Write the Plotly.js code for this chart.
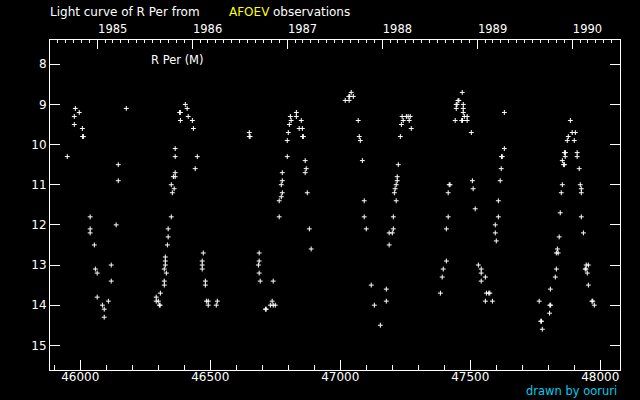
<!DOCTYPE html>
<html>
<head>
<meta charset="utf-8">
<script src="https://cdn.plot.ly/plotly-3.0.1.min.js"></script>
<style>html,body{margin:0;padding:0;background:#000;}#chart{width:640px;height:400px;}</style>
</head>
<body>
<div id="chart"></div>
<script>
// Julian Date - 2400000 of each observation
const jd = [
  45950,45977,45977,45981,45996,46008,46009,46012,46038,46038,46038,46054,46058,46065,46065,46085,46092,46092,46108,46119,46119,46138,46146,46146,46177,
  46292,46292,46300,46304,46307,46308,46323,46323,46323,46327,46327,46327,46331,46335,46338,46338,46350,46350,46354,46358,46361,46365,46365,46365,46365,46382,46385,46385,46404,46411,46415,46431,46435,46442,46450,46469,46469,46469,46473,46481,46481,46485,46492,46492,46523,46527,
  46650,46650,46653,46685,46688,46688,46688,46692,46712,46715,46731,46738,46742,46742,46750,46765,46765,46773,46773,46777,46777,46777,46796,46796,46800,46804,46808,46811,46831,46831,46842,46850,46854,46855,46858,46865,46865,46869,46873,46881,46888,
  47019,47034,47033,47036,47042,47050,47069,47073,47077,47085,47092,47092,47100,47119,47131,47154,47177,47177,47188,47188,47200,47204,47204,47208,47211,47215,47215,47219,47219,47223,47231,47235,47238,47242,47254,47261,47265,47269,47273,
  47385,47392,47396,47408,47408,47415,47415,47419,47422,47442,47446,47446,47449,47453,47456,47469,47467,47470,47473,47473,47473,47477,47488,47488,47504,47508,47511,47519,47531,47542,47542,47542,47558,47558,47562,47571,47575,47585,47596,47596,47600,47608,47608,47615,47619,47620,47623,47631,47631,
  47765,47771,47774,47777,47805,47806,47809,47808,47827,47831,47831,47835,47838,47842,47846,47850,47854,47854,47859,47862,47862,47866,47865,47873,47877,47885,47892,47900,47904,47911,47911,47919,47923,47927,47927,47927,47935,47942,47945,47946,47950,47954,47954,47968,47971,47977
];
// visual magnitudes
const mag = [
  10.3,9.3,9.5,9.1,9.2,9.6,9.8,9.8,11.8,12.1,12.2,12.5,13.1,13.2,13.8,14.0,14.1,14.3,13.9,13.0,13.4,12.0,10.5,10.9,9.1,
  13.8,13.9,13.9,14.0,14.0,13.7,13.1,13.4,13.5,12.8,12.9,13.0,13.2,12.5,12.1,12.3,11.8,11.0,11.2,10.8,11.1,10.1,10.3,10.7,10.8,9.2,9.2,9.4,9.0,9.1,9.3,9.4,9.6,10.6,10.3,12.9,13.0,13.1,12.7,13.4,13.5,13.9,13.9,14.0,14.0,13.9,
  9.7,9.8,9.8,13.0,12.7,12.9,13.2,13.4,14.1,14.1,14.0,13.9,13.4,14.0,14.0,11.4,11.8,11.0,11.3,10.7,10.9,11.2,9.9,10.3,9.7,9.5,9.3,9.4,9.2,9.3,9.6,9.4,9.6,9.8,9.8,10.4,10.7,10.6,11.2,12.1,12.6,
  8.9,8.9,8.8,8.8,8.7,8.8,9.4,9.8,9.9,10.4,11.4,11.8,12.1,13.5,14.0,14.5,13.6,13.9,12.2,12.5,12.2,11.8,12.1,11.2,11.1,11.0,11.4,10.8,10.9,10.5,9.8,9.5,9.3,9.4,9.3,9.3,9.4,9.3,9.6,
  13.7,13.3,13.1,12.1,12.9,11.2,11.8,11.0,11.0,9.4,9.1,9.0,9.0,8.9,8.9,8.7,9.4,9.4,9.0,9.1,9.2,9.3,9.3,9.4,9.7,10.9,11.1,11.6,13.0,13.1,13.2,13.4,13.3,13.9,13.7,13.7,13.7,13.9,12.0,12.2,12.4,11.4,11.8,10.9,10.6,10.3,10.3,9.2,10.1,
  13.9,14.4,14.4,14.6,14.2,14.0,14.0,13.6,13.3,13.1,12.7,12.6,12.7,12.3,11.7,11.2,11.0,10.4,10.5,10.5,10.2,10.2,10.3,9.9,9.8,9.4,9.7,9.9,9.7,10.2,10.3,10.6,11.0,11.1,11.2,11.8,12.2,13.1,13.1,13.0,13.2,13.0,13.5,13.9,13.9,14.0
];
const jdTicks = [46000, 46500, 47000, 47500, 48000];
const magTicks = [8, 9, 10, 11, 12, 13, 14, 15];
const years = [1985, 1986, 1987, 1988, 1989, 1990];
const yearLabels = ['1985', '1986', '1987', '1988', '1989', '1990'];

function calJD(y, m) { return Date.UTC(y, m, 1) / 86400000 + 2440587.5 - 2400000; }
const yearJD = years.map(y => calJD(y, 0));
const monthJD = [];
for (let y = 1984; y <= 1990; y++) for (let m = 0; m < 12; m++) monthJD.push(calJD(y, m));

const xr = [45883.5, 48075.8];
const yr = [15.615, 7.395];
const fnt = {family: 'DejaVu Sans', size: 11, color: '#ffffff'};

const traces = [
  {
    x: jd, y: mag, type: 'scatter', mode: 'markers', xaxis: 'x', yaxis: 'y',
    marker: {symbol: 'cross-thin', size: 3.5, color: '#ffffff', line: {color: '#ffffff', width: 1}},
    hoverinfo: 'skip'
  },
  // invisible carriers so the two top calendar axes are drawn
  {x: yearJD, y: yearJD.map(() => null), type: 'scatter', mode: 'markers', xaxis: 'x2', yaxis: 'y',
   marker: {opacity: 0}, hoverinfo: 'skip'},
  {x: monthJD, y: monthJD.map(() => null), type: 'scatter', mode: 'markers', xaxis: 'x3', yaxis: 'y',
   marker: {opacity: 0}, hoverinfo: 'skip'}
];

const layout = {
  width: 640, height: 400,
  paper_bgcolor: '#000000', plot_bgcolor: '#000000',
  margin: {l: 50, r: 20, t: 40, b: 30, pad: 0},
  showlegend: false,
  font: fnt,
  xaxis: {
    range: xr, autorange: false, showgrid: false, zeroline: false,
    showline: true, linecolor: '#ffffff', linewidth: 1, mirror: true,
    tickmode: 'array', tickvals: jdTicks, ticktext: jdTicks.map(String),
    ticks: 'inside', ticklen: 10, tickwidth: 1, tickcolor: '#ffffff',
    ticklabelstandoff: -4,
    minor: {dtick: 100, tick0: 0, ticks: 'inside', ticklen: 5, tickwidth: 1, tickcolor: '#ffffff', showgrid: false},
    tickfont: {family: 'DejaVu Sans', size: 12, color: '#ffffff'}
  },
  xaxis2: {
    overlaying: 'x', side: 'top', anchor: 'y', range: xr, autorange: false, showgrid: false, zeroline: false, showline: false,
    tickmode: 'array', tickvals: yearJD, ticktext: yearLabels,
    ticks: 'inside', ticklen: 9, tickwidth: 1, tickcolor: '#ffffff',
    ticklabelposition: 'outside right', ticklabelstandoff: 4,
    tickfont: {family: 'DejaVu Sans', size: 11.5, color: '#ffffff'}
  },
  xaxis3: {
    overlaying: 'x', side: 'top', anchor: 'y', range: xr, autorange: false, showgrid: false, zeroline: false, showline: false,
    tickmode: 'array', tickvals: monthJD, showticklabels: false,
    ticks: 'inside', ticklen: 3, tickwidth: 1, tickcolor: '#ffffff'
  },
  yaxis: {
    range: yr, autorange: false, showgrid: false, zeroline: false,
    showline: true, linecolor: '#ffffff', linewidth: 1, mirror: 'ticks',
    tickmode: 'array', tickvals: magTicks, ticktext: magTicks.map(String),
    ticks: 'inside', ticklen: 10, tickwidth: 1, tickcolor: '#ffffff',
    tickfont: {family: 'DejaVu Sans', size: 12, color: '#ffffff'}
  },
  annotations: [
    {xref: 'paper', yref: 'paper', x: -2 / 570, y: 1 + 28 / 330, xanchor: 'left', yanchor: 'middle', showarrow: false,
     text: 'Light curve of R Per from', font: {family: 'DejaVu Sans', size: 12, color: '#ffffff'}},
    {xref: 'paper', yref: 'paper', x: 177 / 570, y: 1 + 28 / 330, xanchor: 'left', yanchor: 'middle', showarrow: false,
     text: 'AFOEV', font: {family: 'DejaVu Sans', size: 12, color: '#ffff00'}},
    {xref: 'paper', yref: 'paper', x: 221 / 570, y: 1 + 28 / 330, xanchor: 'left', yanchor: 'middle', showarrow: false,
     text: 'observations', font: {family: 'DejaVu Sans', size: 12, color: '#ffffff'}},
    {xref: 'paper', yref: 'paper', x: 99 / 570, y: 1 - 20 / 330, xanchor: 'left', yanchor: 'middle', showarrow: false,
     text: 'R Per (M)', font: {family: 'DejaVu Sans', size: 11.5, color: '#ffffff'}},
    {xref: 'paper', yref: 'paper', x: 569 / 570, y: -21 / 330, xanchor: 'right', yanchor: 'middle', showarrow: false,
     text: 'drawn by ooruri', font: {family: 'DejaVu Sans', size: 11.5, color: '#00ccee'}}
  ]
};

Plotly.newPlot('chart', traces, layout, {staticPlot: true, displayModeBar: false});
</script>
</body>
</html>
